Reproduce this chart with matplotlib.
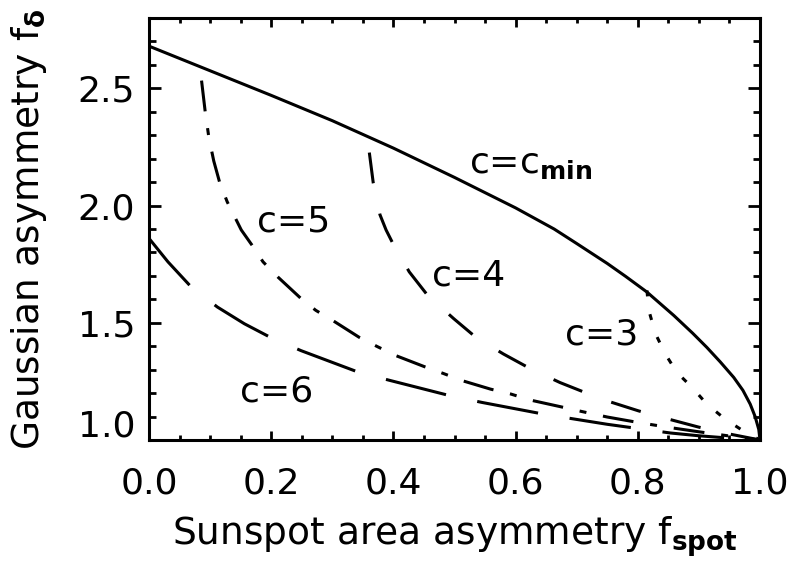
import matplotlib
matplotlib.use("Agg")
import matplotlib.pyplot as plt

plt.rcParams['font.family'] = ['DejaVu Sans']
plt.rcParams['mathtext.fontset'] = 'dejavusans'
plt.rcParams['lines.scale_dashes'] = False

# ---- data ----
cmin_x = [0.0, 0.1, 0.2, 0.3, 0.4, 0.5, 0.6, 0.663, 0.70, 0.75, 0.78, 0.815, 0.859, 0.89, 0.913,
          0.935, 0.957, 0.972, 0.984, 0.992, 0.998, 1.0]
cmin_y = [2.68, 2.575, 2.47, 2.362, 2.245, 2.12, 1.99, 1.90, 1.838, 1.753, 1.698, 1.631, 1.531, 1.455,
          1.395, 1.333, 1.267, 1.212, 1.153, 1.100, 1.045, 1.0]

c5_x = [0.086, 0.092, 0.098, 0.106, 0.1155, 0.128, 0.151, 0.1686, 0.1866, 0.211, 0.249, 0.273, 0.3006,
        0.344, 0.374, 0.404, 0.4506, 0.4815, 0.5128, 0.559, 0.591, 0.6247, 0.6735, 0.704, 0.75, 0.80,
        0.85, 0.90, 0.95, 1.0]
c5_y = [2.533, 2.40, 2.29, 2.19, 2.10, 2.016, 1.896, 1.831, 1.760, 1.695, 1.603, 1.553, 1.510,
        1.438, 1.398, 1.360, 1.313, 1.284, 1.253, 1.217, 1.197, 1.170, 1.142, 1.124, 1.098, 1.075,
        1.054, 1.035, 1.017, 1.0]

c4_x = [0.3606, 0.367, 0.378, 0.388, 0.399, 0.426, 0.456, 0.499, 0.535, 0.580, 0.625, 0.6727, 0.720,
        0.7496, 0.8015, 0.8505, 0.8996, 0.951, 1.0]
c4_y = [2.226, 2.097, 1.961, 1.896, 1.839, 1.717, 1.617, 1.517, 1.438, 1.367, 1.303, 1.245, 1.196,
        1.167, 1.124, 1.089, 1.055, 1.025, 1.0]

c6_x = [0.0, 0.031, 0.069, 0.112, 0.156, 0.2, 0.249, 0.344, 0.396, 0.494, 0.5455, 0.6465, 0.698,
        0.75, 0.853, 0.9, 0.95, 1.0]
c6_y = [1.86, 1.760, 1.653, 1.567, 1.496, 1.436, 1.381, 1.288, 1.253, 1.188, 1.160, 1.110, 1.0886,
        1.067, 1.030, 1.018, 1.008, 1.0]

c3_x = [0.815, 0.818, 0.829, 0.845, 0.864, 0.889, 0.913, 0.943, 0.973, 1.0]
c3_y = [1.638, 1.553, 1.453, 1.367, 1.288, 1.224, 1.153, 1.089, 1.038, 1.0]

x_ticks = [0.0, 0.2, 0.4, 0.6, 0.8, 1.0]
x_ticklabels = ['0.0', '0.2', '0.4', '0.6', '0.8', '1.0']
y_ticks = [1.0, 1.5, 2.0, 2.5]
y_ticklabels = ['1.0', '1.5', '2.0', '2.5']

labels = ['c=c$_{\\mathbf{min}}$', 'c=5', 'c=4', 'c=3', 'c=6']
label_x = [0.524, 0.177, 0.463, 0.681, 0.149]
label_y = [2.14, 1.891, 1.66, 1.407, 1.163]

# ---- figure ----
fig = plt.figure(figsize=(7.92, 5.63), dpi=100)
ax = fig.add_axes([149/792, 1-440/563, (760-149)/792, (440-18)/563])

lw = 2.2
ax.plot(cmin_x, cmin_y, color='black', lw=lw, solid_capstyle='butt', solid_joinstyle='round')
ax.plot(c5_x, c5_y, color='black', lw=lw, dashes=(22.3, 12.2, 5.0, 12.2), dash_capstyle='butt')
ax.plot(c4_x, c4_y, color='black', lw=lw, dashes=(22.3, 22.3), dash_capstyle='butt')
ax.plot(c6_x, c6_y, color='black', lw=lw, dashes=(44.6, 23.0), dash_capstyle='butt')
ax.plot(c3_x, c3_y, color='black', lw=lw, dashes=(4.3, 13.0), dash_capstyle='butt')

for t, xx, yy in zip(labels, label_x, label_y):
    ax.text(xx, yy, t, fontsize=26, ha='left', va='baseline')

ax.set_xlim(0.0, 1.0)
ax.set_ylim(1.0, 2.8)

ax.set_xticks(x_ticks)
ax.set_xticklabels(x_ticklabels)
ax.set_xticks([i * 0.05 for i in range(21)], minor=True)
ax.set_yticks(y_ticks)
ax.set_yticklabels(['' if l == '1.0' else l for l in y_ticklabels])
ax.set_yticks([1.0 + i * 0.1 for i in range(19)], minor=True)

ax.tick_params(axis='both', which='both', direction='in', top=True, right=True, width=2.0,
               labelsize=26)
ax.tick_params(axis='x', which='major', length=6.8, pad=19)
ax.tick_params(axis='x', which='minor', length=3.8)
ax.tick_params(axis='y', which='major', length=8.6, pad=10)
ax.tick_params(axis='y', which='minor', length=4.7)

# bottom y-label shifted upward like the original
ax.annotate(y_ticklabels[0], xy=(0, y_ticks[0]), xycoords=('axes fraction', 'data'),
            xytext=(-10, 10), textcoords='offset points', ha='right', va='center', fontsize=26)

for s in ax.spines.values():
    s.set_linewidth(2.2)

fig.text(454.5/792, 1-545/563, 'Sunspot area asymmetry f$_{\\mathbf{spot}}$', fontsize=27,
         ha='center', va='baseline')
fig.text(29/792, 1-229/563, 'Gaussian asymmetry f$_{\\mathbf{\u03b4}}$', fontsize=27,
         ha='center', va='center', rotation=90)

fig.savefig('out.png', dpi=100)
